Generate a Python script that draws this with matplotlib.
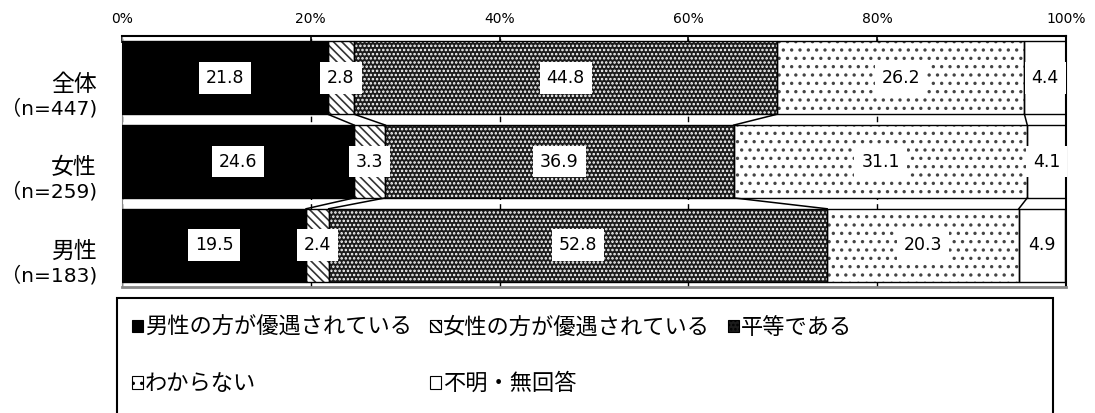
import numpy as np
import matplotlib.pyplot as plt
from matplotlib.patches import Rectangle

plt.rcParams['font.family'] = ['Noto Sans CJK JP', 'DejaVu Sans']
plt.rcParams['hatch.linewidth'] = 1.2

groups = ['全体', '女性', '男性']
counts = ['（n=447)', '（n=259)', '（n=183)']
categories = ['男性の方が優遇されている', '女性の方が優遇されている', '平等である',
              'わからない', '不明・無回答']
values = np.array([
    [21.8, 2.8, 44.8, 26.2, 4.4],
    [24.6, 3.3, 36.9, 31.1, 4.1],
    [19.5, 2.4, 52.8, 20.3, 4.9],
])
ticks = [0, 20, 40, 60, 80, 100]
tick_labels = ['0%', '20%', '40%', '60%', '80%', '100%']

num_font = ['DejaVu Sans', 'Noto Sans CJK JP']

# fill, hatch, hatch colour for each category
styles = [
    ('black', None, 'black'),
    ('white', '\\\\\\\\', '#333333'),
    ('#1c1c1c', '....', 'white'),
    ('white', '..', '#444444'),
    ('white', None, 'black'),
]

fig = plt.figure(figsize=(10.95, 4.13), dpi=100)
ax = fig.add_axes([0.1114, 0.3051, 0.8621, 0.6077])

bh = 0.87
y = np.arange(len(groups))
left = np.zeros(len(groups))
for j in range(len(categories)):
    fc, hatch, hc = styles[j]
    ax.barh(y, values[:, j], left=left, height=bh, color=fc, hatch=hatch,
            edgecolor=hc, linewidth=0, zorder=2)
    ax.barh(y, values[:, j], left=left, height=bh, fill=False,
            edgecolor='black', linewidth=1, zorder=3)
    for i in range(len(groups)):
        ax.text(left[i] + values[i, j] / 2, y[i], f'{values[i, j]:.1f}',
                ha='center', va='center', fontsize=12.5, family=num_font, zorder=5,
                bbox=dict(boxstyle='square,pad=0.4', fc='white', ec='none'))
    left = left + values[:, j]

# lines joining the segment borders of neighbouring bars
cum = np.cumsum(values, axis=1)
for i in range(len(groups) - 1):
    for j in range(len(categories) - 1):
        ax.plot([cum[i, j], cum[i + 1, j]], [y[i] + bh / 2, y[i + 1] - bh / 2],
                color='black', lw=1.1, zorder=4)

ax.set_xlim(0, 100)
ax.set_ylim(2.5, -0.5)
ax.xaxis.tick_top()
ax.set_xticks(ticks)
ax.set_xticklabels(tick_labels, fontsize=10, family=num_font)
ax.tick_params(axis='x', direction='in', length=5, width=1.2, pad=7)
ax.set_yticks([])
ax.grid(axis='x', color='black', linestyle=(0, (4, 3)), lw=1)
ax.set_axisbelow(True)
ax.spines['top'].set_linewidth(1.5)
ax.spines['right'].set_linewidth(1.5)
ax.spines['left'].set_color('#888888')
ax.spines['bottom'].set_color('#888888')
ax.spines['bottom'].set_linewidth(2)

for i in range(len(groups)):
    ax.annotate(groups[i], xy=(0, y[i]), xycoords=('axes fraction', 'data'),
                xytext=(-18, -4.5), textcoords='offset points',
                ha='right', va='center', fontsize=16.5)
    ax.annotate(counts[i], xy=(0, y[i]), xycoords=('axes fraction', 'data'),
                xytext=(-18, -22), textcoords='offset points',
                ha='right', va='center', fontsize=14.5, family=num_font)

# legend box runs off the bottom of the figure
fig.patches.append(Rectangle((0.107, -0.1), 0.8546, 0.3785, transform=fig.transFigure,
                             fill=False, edgecolor='black', lw=1.5))
handles = [Rectangle((0, 0), 1, 1, facecolor=s[0], hatch=s[1], edgecolor='black', lw=0.8)
           for s in styles]
order = [0, 3, 1, 4, 2]
leg = fig.legend([handles[k] for k in order], [categories[k] for k in order],
                 loc='upper left', bbox_to_anchor=(0.112, 0.257), ncol=3,
                 frameon=False, fontsize=16, handlelength=0.5, handleheight=0.5,
                 handletextpad=0.1, columnspacing=0.8, labelspacing=1.5,
                 borderaxespad=0)

fig.savefig('out.png', dpi=100)
